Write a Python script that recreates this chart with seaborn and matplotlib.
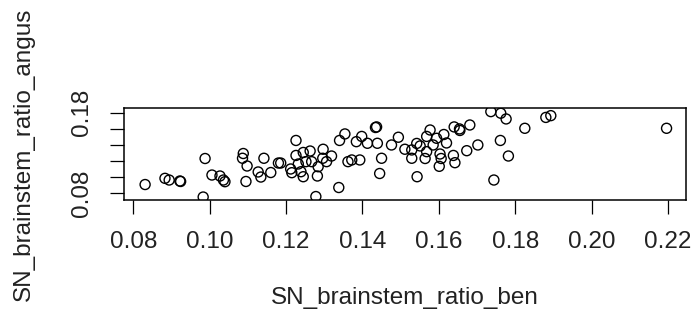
import matplotlib
matplotlib.use("Agg")
import matplotlib.pyplot as plt
import seaborn as sns
import pandas as pd

# SN / brainstem ratio, two raters
ben = [0.0831, 0.0883, 0.0894, 0.0922, 0.0924, 0.0988, 0.0983, 0.1006, 0.1027, 0.1036,
       0.1040, 0.1088, 0.1086, 0.1098, 0.1095, 0.1127, 0.1134, 0.1142, 0.1160, 0.1180,
       0.1186, 0.1212, 0.1215, 0.1226, 0.1226, 0.1232, 0.1245, 0.1263, 0.1252, 0.1239,
       0.1245, 0.1267, 0.1284, 0.1282, 0.1297, 0.1296, 0.1306, 0.1319, 0.1278, 0.1338,
       0.1340, 0.1354, 0.1362, 0.1372, 0.1393, 0.1384, 0.1398, 0.1413, 0.1434, 0.1437,
       0.1439, 0.1450, 0.1445, 0.1476, 0.1494, 0.1511, 0.1529, 0.1529, 0.1542, 0.1543,
       0.1551, 0.1564, 0.1568, 0.1577, 0.1568, 0.1585, 0.1594, 0.1603, 0.1606, 0.1601,
       0.1613, 0.1620, 0.1638, 0.1642, 0.1640, 0.1654, 0.1655, 0.1681, 0.1673, 0.1702,
       0.1736, 0.1744, 0.1761, 0.1762, 0.1776, 0.1782, 0.1825, 0.1880, 0.1893, 0.2196]
angus = [0.0909, 0.0986, 0.0965, 0.0953, 0.0947, 0.1232, 0.0754, 0.1027, 0.1015, 0.0965,
         0.0944, 0.1294, 0.1235, 0.1139, 0.0947, 0.1065, 0.1002, 0.1235, 0.1058, 0.1176,
         0.1176, 0.1102, 0.1056, 0.1456, 0.1270, 0.1164, 0.1307, 0.1325, 0.1193, 0.1068,
         0.1006, 0.1193, 0.1130, 0.1015, 0.1347, 0.1235, 0.1193, 0.1263, 0.0760, 0.0872,
         0.1456, 0.1537, 0.1193, 0.1214, 0.1214, 0.1441, 0.1506, 0.1421, 0.1617, 0.1624,
         0.1421, 0.1235, 0.1046, 0.1400, 0.1496, 0.1347, 0.1338, 0.1235, 0.1419, 0.1006,
         0.1388, 0.1232, 0.1317, 0.1586, 0.1506, 0.1400, 0.1483, 0.1288, 0.1232, 0.1135,
         0.1530, 0.1425, 0.1270, 0.1180, 0.1624, 0.1599, 0.1580, 0.1648, 0.1329, 0.1400,
         0.1814, 0.0965, 0.1456, 0.1794, 0.1723, 0.1263, 0.1607, 0.1742, 0.1764, 0.1607]

xticks = [0.08, 0.10, 0.12, 0.14, 0.16, 0.18, 0.20, 0.22]
yticks = [0.08, 0.10, 0.12, 0.14, 0.16, 0.18]
ytick_labels = ["0.08", "", "", "", "", "0.18"]

df = pd.DataFrame({"SN_brainstem_ratio_ben": ben, "SN_brainstem_ratio_angus": angus})

sns.set_style("white")
plt.rcParams["font.family"] = ["Liberation Sans", "DejaVu Sans"]

fig = plt.figure(figsize=(6.93, 3.24), dpi=100)
ax = fig.add_axes([0.1789, 0.3827, 0.811, 0.283])

sns.scatterplot(data=df, x="SN_brainstem_ratio_ben", y="SN_brainstem_ratio_angus",
                ax=ax, marker="o", s=52, facecolors="none", edgecolor="black",
                linewidth=1.0)

ax.set_xlim(0.07757, 0.22469)
ax.set_ylim(0.0717, 0.1855)
ax.set_xticks(xticks)
ax.set_xticklabels([f"{v:.2f}" for v in xticks])
ax.set_yticks(yticks)
ax.set_yticklabels(ytick_labels, rotation=90, va="center")

for s in ax.spines.values():
    s.set_visible(True)
    s.set_color("black")
    s.set_linewidth(1.1)

ax.tick_params(axis="both", direction="out", length=10, width=0.9, color="black",
               labelsize=17.5, labelcolor="#222222", pad=12, left=True, bottom=True)

ax.set_xlabel("SN_brainstem_ratio_ben", fontsize=17.5, color="#222222")
ax.set_ylabel("SN_brainstem_ratio_angus", fontsize=17.5, color="#222222")
ax.xaxis.set_label_coords(0.5, -0.95)
ax.yaxis.set_label_coords(-0.158, 0.5)

fig.savefig("out.png", dpi=100, facecolor="white")
